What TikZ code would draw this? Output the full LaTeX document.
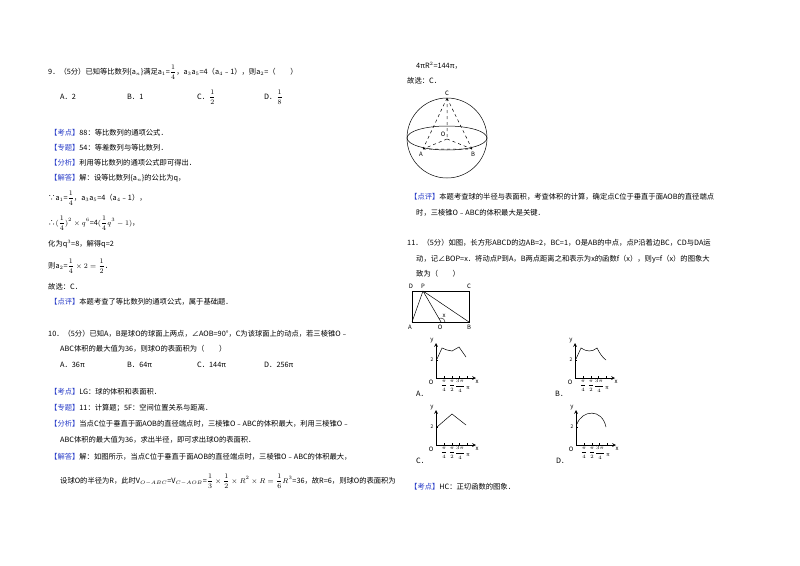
\documentclass[tikz,border=0pt]{standalone}
\usepackage{fontspec}
\setmainfont{Noto Sans CJK SC}
\definecolor{kblue}{RGB}{40,60,200}
\newcommand{\kd}[1]{\textcolor{kblue}{【#1】}}
\newcommand{\fr}[2]{$\displaystyle\frac{#1}{#2}$}
\begin{document}
\begin{tikzpicture}[x=1pt,y=-1pt,
  tx/.style={anchor=west,inner sep=0pt,font=\fontsize{7.3}{9}\selectfont},
  lb/.style={inner sep=0pt,font=\fontsize{6}{7}\itshape\rmfamily},
  gl/.style={inner sep=0pt,font=\fontsize{5}{6}\rmfamily},
  ln/.style={line width=0.5pt},
  ax/.style={line width=0.7pt,-stealth}]
\useasboundingbox (0,0) rectangle (800,565);
\fill[white] (0,0) rectangle (800,565);
% ---------- left column ----------
\node[tx] (q9) at (48,72) {9．（5分）已知等比数列\{a$_n$\}满足a$_1$=\fr14，a$_3$a$_5$=4（a$_4$﹣1），则a$_2$=（\quad\quad）};
\node[tx] (q9a) at (60,97) {A．2};
\node[tx] (q9b) at (127,97) {B．1};
\node[tx] (q9c) at (197,97) {C．\fr12};
\node[tx] (q9d) at (264,97) {D．\fr18};
\node[tx] (k9) at (50,133) {\kd{考点}88：等比数列的通项公式．};
\node[tx] (z9) at (50,148) {\kd{专题}54：等差数列与等比数列．};
\node[tx] (f9) at (50,163) {\kd{分析}利用等比数列的通项公式即可得出．};
\node[tx] (j9) at (50,178) {\kd{解答}解：设等比数列\{a$_n$\}的公比为q，};
\node[tx] (s1) at (48,198) {∵a$_1$=\fr14，a$_3$a$_5$=4（a$_4$﹣1），};
\node[tx] (s2) at (48,223) {∴$\displaystyle(\frac14)^2\times q^6$=4$\displaystyle(\frac14q^3-1)$，};
\node[tx] (s3) at (48,244) {化为q$^3$=8，解得q=2};
\node[tx] (s4) at (48,266) {则a$_2$=$\displaystyle\frac14\times2=\frac12$．};
\node[tx] (s5) at (48,287) {故选：C．};
\node[tx] (d9) at (50,302) {\kd{点评}本题考查了等比数列的通项公式，属于基础题．};
\node[tx] (q10) at (48,334) {10．（5分）已知A，B是球O的球面上两点，∠AOB=90°，C为该球面上的动点，若三棱锥O﹣};
\node[tx] (q10b) at (60,349) {ABC体积的最大值为36，则球O的表面积为（\quad\quad）};
\node[tx] (q10oa) at (60,365) {A．36π};
\node[tx] (q10ob) at (127,365) {B．64π};
\node[tx] (q10oc) at (197,365) {C．144π};
\node[tx] (q10od) at (264,365) {D．256π};
\node[tx] (k10) at (50,392) {\kd{考点}LG：球的体积和表面积．};
\node[tx] (z10) at (50,408) {\kd{专题}11：计算题；5F：空间位置关系与距离．};
\node[tx] (f10) at (50,424) {\kd{分析}当点C位于垂直于面AOB的直径端点时，三棱锥O﹣ABC的体积最大，利用三棱锥O﹣};
\node[tx] (f10b) at (60,440) {ABC体积的最大值为36，求出半径，即可求出球O的表面积．};
\node[tx] (j10) at (50,457) {\kd{解答}解：如图所示，当点C位于垂直于面AOB的直径端点时，三棱锥O﹣ABC的体积最大，};
\node[tx] (j10b) at (60,481) {设球O的半径为R，此时V$_{O-ABC}$=V$_{C-AOB}$=$\displaystyle\frac13\times\frac12\times R^2\times R=\frac16R^3$=36，故R=6，则球O的表面积为};
% ---------- right column ----------
\node[tx] (r1) at (416,66) {4πR$^2$=144π，};
\node[tx] (r2) at (407,81) {故选：C．};
% sphere
\coordinate (SO) at (447,138);
\draw[ln] (SO) circle (40);
\draw[ln] (SO) ellipse (40 and 12);
\coordinate (C) at (447,98);
\coordinate (O) at (447,139);
\coordinate (A) at (423,149);
\coordinate (B) at (472,149);
\draw[ln,dashed] (C)--(A) (C)--(B) (C)--(O) (O)--(A) (O)--(B) (A)--(B);
\node[lb] (lc) at (447,93) {C};
\node[lb] (lo) at (443,134) {O};
\node[lb] (la) at (421,154) {A};
\node[lb] (lbb) at (473,154) {B};
\node[tx] (d10) at (410,197) {\kd{点评}本题考查球的半径与表面积，考查体积的计算，确定点C位于垂直于面AOB的直径端点};
\node[tx] (d10b) at (416,213) {时，三棱锥O﹣ABC的体积最大是关键．};
\node[tx] (q11) at (407,243) {11．（5分）如图，长方形ABCD的边AB=2，BC=1，O是AB的中点，点P沿着边BC，CD与DA运};
\node[tx] (q11b) at (416,259) {动，记∠BOP=x．将动点P到A，B两点距离之和表示为x的函数f（x），则y=f（x）的图象大};
\node[tx] (q11c) at (416,274) {致为（\quad\quad）};
% rectangle
\coordinate (RD) at (412,291); \coordinate (RC) at (469,291);
\coordinate (RA) at (412,322); \coordinate (RB) at (469,322);
\coordinate (RP) at (423,291); \coordinate (RO) at (441,322);
\draw[ln] (RA) rectangle (RC);
\draw[ln] (RP)--(RA) (RP)--(RO) (RP)--(RB);
\draw[line width=0.4pt] (445,322) arc (0:-120:4) ;
\node[lb] (rld) at (411,286) {D};
\node[lb] (rlp) at (423,286) {P};
\node[lb] (rlc) at (469,286) {C};
\node[lb] (rla) at (410,327) {A};
\node[lb] (rlo) at (440,327) {O};
\node[lb] (rlb) at (469,327) {B};
\node[lb] (rlx) at (444,316) {x};
% graphs
\foreach \gx/\gy/\nm in {436/378/A,575/378/B,436/445/C,576/445/D}{
  \begin{scope}[shift={(\gx,\gy)}]
  \draw[ax] (0,0)--(0,-35);
  \draw[ax] (0,0)--(40,0);
  \foreach \t in {8,16,23,31} \draw[line width=0.4pt] (\t,0)--(\t,-2);
  \draw[line width=0.4pt] (0,-18)--(2,-18);
  \node[gl] at (-4,-18) {2};
  \node[lb] at (-4,-37) {y};
  \node[lb] at (-5,4) {O};
  \node[lb] at (41,4) {x};
  \node[gl] at (8,8) {$\displaystyle\frac{\pi}{4}$};
  \node[gl] at (16,8) {$\displaystyle\frac{\pi}{2}$};
  \node[gl] at (24,8) {$\displaystyle\frac{3\pi}{4}$};
  \node[gl] at (32,10) {π};
  \end{scope}
  \node[tx] (lab\nm) at (\gx-20,\gy+16) {\nm．};
}
\draw[ln] (437,359)--(442,348)--(447,350)--(452,351)--(459,347)--(466,357);
\draw[ln] (576,359)--(581,348) .. controls (587,352) and (592,352) .. (597,348) .. controls (600,354) and (603,358) .. (606,360);
\draw[ln] (437,427)--(452,414)--(466,425);
\draw[ln] (577,424) .. controls (582,410) and (602,408) .. (606,427);
\node[tx] (k11) at (410,487) {\kd{考点}HC：正切函数的图象．};
\end{tikzpicture}
\end{document}
